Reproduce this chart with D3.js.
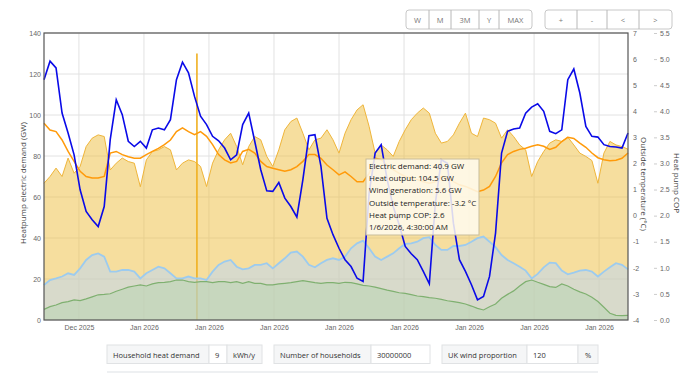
<!DOCTYPE html>
<html>
<head>
<meta charset="utf-8">
<script src="https://cdn.jsdelivr.net/npm/d3@7"></script>
<style>
body{margin:0;background:#fff;font-family:"Open Sans",sans-serif;}
</style>
</head>
<body>
<script>
// values, one sample every ~6px
var temperature=[5.21,5.92,5.66,3.93,3.17,2.33,0.99,0.16,-0.16,-0.42,0.35,2.91,4.44,3.87,2.85,2.65,2.85,2.59,3.29,3.36,3.29,3.68,5.21,5.88,5.47,4.57,
  3.81,3.49,3.04,2.87,2.59,2.14,2.33,3.49,3.93,2.85,1.76,0.95,0.93,1.27,0.67,0.35,-0.06,1.38,3.06,3.10,1.89,-0.10,-0.73,-1.25,
  -1.69,-1.95,-2.40,-2.52,0.86,2.40,2.72,1.38,0.35,-0.35,-1.18,-1.46,-1.69,-2.14,-2.61,0.48,2.14,2.01,-0.29,-1.69,-2.14,-2.65,-3.23,-3.10,
  -2.33,-0.67,2.40,3.23,3.32,3.36,3.93,4.16,4.29,4.00,3.23,3.14,3.29,5.21,5.62,4.70,3.42,3.04,3.01,2.72,2.65,2.63,2.59,3.17];
var cop=[3.77,3.64,3.61,3.45,3.23,3.04,2.85,2.75,2.72,2.72,2.75,3.20,3.23,3.17,3.13,3.10,3.10,3.17,3.23,3.29,3.36,3.45,3.61,3.68,3.61,3.55,
  3.61,3.52,3.36,3.17,3.07,3.01,3.04,3.23,3.27,3.20,3.04,2.94,2.91,2.88,2.85,2.88,2.94,3.04,3.17,3.17,3.10,2.97,2.88,2.78,
  2.84,2.75,2.65,2.65,2.81,3.10,3.07,2.97,2.88,2.81,2.75,2.72,2.69,2.65,2.62,2.65,2.75,2.72,2.65,2.59,2.56,2.51,2.46,2.49,
  2.56,2.75,3.01,3.17,3.23,3.27,3.29,3.33,3.36,3.33,3.27,3.31,3.42,3.50,3.48,3.39,3.31,3.20,3.11,3.07,3.05,3.06,3.10,3.20];
var heatOutput=[66.7,70.0,74.1,70.0,79.0,71.6,74.9,84.6,88.7,90.3,89.5,73.2,76.5,79.0,77.3,76.5,65.0,78.1,82.2,83.0,84.6,83.0,73.2,76.5,78.1,77.3,
  74.9,65.1,76.5,83.0,87.9,91.1,84.6,75.7,84.6,89.5,87.9,79.8,74.9,83.0,92.8,96.8,98.5,91.1,83.0,87.9,88.7,92.8,87.9,81.4,
  91.1,97.7,102.5,105.0,94.4,81.4,85.4,83.0,79.8,87.1,92.8,97.7,100.9,103.4,100.9,91.1,86.3,87.1,90.3,96.0,100.9,91.1,89.5,98.5,
  97.7,96.0,88.7,92.8,89.5,85.4,83.0,70.0,77.3,82.2,86.3,87.9,87.1,89.2,85.4,81.4,79.8,77.8,66.7,81.4,87.1,85.4,84.6,83.3];
var electricDemand=[17.1,19.5,20.3,21.2,22.8,22.0,25.2,29.3,31.7,32.5,30.9,23.6,23.6,24.4,24.4,23.6,20.3,22.8,24.4,26.0,25.2,22.8,20.3,20.3,21.2,20.3,
  20.3,19.5,23.6,26.9,28.5,29.3,26.0,24.7,25.2,26.9,26.9,27.7,25.2,27.7,30.1,32.9,33.4,30.9,26.9,25.7,27.7,29.3,30.1,29.3,
  30.9,35.0,37.4,38.7,35.0,30.9,29.3,30.9,32.5,35.0,37.1,37.4,38.2,39.9,40.4,36.6,34.2,34.2,36.1,36.1,36.6,38.2,39.9,40.7,
  38.2,35.5,31.7,29.3,27.7,26.0,24.1,20.3,22.5,25.7,28.0,27.7,24.1,22.3,23.1,24.1,24.4,23.6,21.2,23.6,25.7,27.7,26.9,24.7];
var windGeneration=[5.2,6.5,7.3,8.5,9.0,9.8,9.5,10.3,11.3,12.3,12.5,12.8,14.0,15.0,16.0,16.6,17.1,16.6,17.6,18.2,18.4,18.7,19.5,19.5,18.7,18.4,
  18.7,18.7,18.2,18.7,18.7,18.2,18.7,17.9,18.7,17.9,17.9,17.1,17.1,17.6,17.9,18.2,18.7,19.2,18.7,18.2,17.9,18.2,18.2,17.9,
  18.4,18.2,17.6,16.9,16.6,16.0,15.3,14.6,14.0,13.3,13.0,12.4,11.7,11.4,10.9,10.6,10.1,9.4,9.0,8.5,7.8,6.8,5.7,4.9,
  6.5,7.8,10.6,12.5,14.2,16.6,18.7,19.5,18.4,17.4,16.3,15.9,17.6,16.6,15.0,13.7,12.7,11.1,9.0,6.2,3.3,2.3,2.1,2.3];
var heatSpike={index:25.4,value:130};

var xTickIndex=[5.8,16.6,27.4,38.2,49.0,59.8,70.6,81.4,92.2];
var xTickLabels=["Dec 2025","Jan 2026","Jan 2026","Jan 2026","Jan 2026","Jan 2026","Jan 2026","Jan 2026","Jan 2026"];
var demandTicks=[0,20,40,60,80,100,120,140];
var tempTicks=[-4,-3,-2,-1,0,1,2,3,4,5,6,7];
var copTicks=[0,0.5,1,1.5,2,2.5,3,3.5,4,4.5,5,5.5];

var rangeButtons=["W","M","3M","Y","MAX"];
var navButtons=["+","-","<",">"];
var tooltipLines=["Electric demand: 40.9 GW","Heat output: 104.5 GW","Wind generation: 5.6 GW","Outside temperature: -3.2 °C","Heat pump COP: 2.6","1/6/2026, 4:30:00 AM"];

var width=690, height=373;
var plot={left:44,right:628,top:33,bottom:320};

var svg=d3.select("body").append("svg").attr("width",width).attr("height",height)
  .style("font-family","'Open Sans',sans-serif");

var x=d3.scaleLinear().domain([0,temperature.length-1]).range([plot.left,plot.right]);
var y=d3.scaleLinear().domain([0,140]).range([plot.bottom,plot.top]);
var yTemp=d3.scaleLinear().domain([-4,7]).range([plot.bottom,plot.top]);
var yCop=d3.scaleLinear().domain([0,5.5]).range([plot.bottom,plot.top]);

// grid
var grid=svg.append("g").attr("class","grid");
grid.selectAll("line.h").data(demandTicks).enter().append("line")
  .attr("x1",plot.left).attr("x2",plot.right)
  .attr("y1",function(d){return y(d);}).attr("y2",function(d){return y(d);})
  .attr("stroke","#e2e2e2");
grid.selectAll("line.v").data(xTickIndex).enter().append("line")
  .attr("y1",plot.top).attr("y2",plot.bottom)
  .attr("x1",function(d){return x(d);}).attr("x2",function(d){return x(d);})
  .attr("stroke","#e2e2e2");

function areaOf(values){
  return d3.area().x(function(d,i){return x(i);}).y0(y(0)).y1(function(d){return y(d);})(values);
}
function lineOf(values,scale){
  return d3.line().x(function(d,i){return x(i);}).y(function(d){return scale(d);})(values);
}

// heat output
svg.append("path").attr("d",areaOf(heatOutput)).attr("fill","rgba(238,190,62,0.5)");
svg.append("path").attr("d",lineOf(heatOutput,y)).attr("fill","none").attr("stroke","#efb53a").attr("stroke-width",1);
svg.append("line").attr("x1",x(heatSpike.index)).attr("x2",x(heatSpike.index))
  .attr("y1",y(0)).attr("y2",y(heatSpike.value)).attr("stroke","#f0b020").attr("stroke-width",1.6);

// electric demand
svg.append("path").attr("d",areaOf(electricDemand)).attr("fill","rgba(185,214,248,0.5)");
svg.append("path").attr("d",lineOf(electricDemand,y)).attr("fill","none").attr("stroke","#9ccbef").attr("stroke-width",1.8);

// wind generation
svg.append("path").attr("d",areaOf(windGeneration)).attr("fill","rgba(176,210,169,0.4)");
svg.append("path").attr("d",lineOf(windGeneration,y)).attr("fill","none").attr("stroke","#7fb070").attr("stroke-width",1.2);

// COP
svg.append("path").attr("d",lineOf(cop,yCop)).attr("fill","none").attr("stroke","#ff9a0a").attr("stroke-width",1.5);
// temperature
svg.append("path").attr("d",lineOf(temperature,yTemp)).attr("fill","none").attr("stroke","#0a0ae8").attr("stroke-width",1.6);

svg.append("rect").attr("x",plot.left).attr("y",plot.top)
  .attr("width",plot.right-plot.left).attr("height",plot.bottom-plot.top)
  .attr("fill","none").attr("stroke","#555").attr("stroke-width",1.2);

// axes
function styleAxis(g){
  g.select(".domain").remove();
  g.selectAll("text").attr("fill","#666").style("font-size","7px");
}
svg.append("g").attr("transform","translate("+plot.left+",0)")
  .call(d3.axisLeft(y).tickValues(demandTicks).tickSize(0).tickPadding(3))
  .call(styleAxis);
svg.append("g").attr("transform","translate("+plot.right+",0)")
  .call(d3.axisRight(yTemp).tickValues(tempTicks).tickSize(0).tickPadding(5).tickFormat(function(d){return String(d);}))
  .call(styleAxis);
svg.append("g").attr("transform","translate(654,0)")
  .call(d3.axisRight(yCop).tickValues(copTicks).tickSize(3).tickPadding(3).tickFormat(d3.format(".1f")))
  .call(styleAxis)
  .selectAll("line").attr("stroke","#ccc");
svg.append("g").attr("transform","translate(0,"+plot.bottom+")")
  .call(d3.axisBottom(x).tickValues(xTickIndex).tickSize(0).tickPadding(5).tickFormat(function(d,i){return xTickLabels[i];}))
  .call(styleAxis);

svg.append("text").text("Heatpump electric demand (GW)")
  .attr("transform","translate(22,183) rotate(-90)").attr("text-anchor","middle")
  .attr("dominant-baseline","central").style("font-size","8px").attr("fill","#444");
svg.append("text").text("Outside temperature (°C)")
  .attr("transform","translate(644,184) rotate(90)").attr("text-anchor","middle")
  .attr("dominant-baseline","central").style("font-size","8px").attr("fill","#444");
svg.append("text").text("Heat pump COP")
  .attr("transform","translate(677,183) rotate(90)").attr("text-anchor","middle")
  .attr("dominant-baseline","central").style("font-size","8px").attr("fill","#444");

// tooltip
var tip=svg.append("g").attr("transform","translate(366,159)");
tip.append("rect").attr("width",113).attr("height",76)
  .attr("fill","rgba(255,251,238,0.85)").attr("stroke","#c9bd9a");
tip.selectAll("text").data(tooltipLines).enter().append("text")
  .attr("x",3).attr("y",function(d,i){return 9.7+i*12.33;})
  .text(function(d){return d;}).style("font-size","8px").attr("fill","#1a1a1a");

// buttons
function buttonGroup(labels,edges,y0,h){
  var g=svg.append("g");
  g.append("rect").attr("x",edges[0]).attr("y",y0).attr("width",edges[edges.length-1]-edges[0]).attr("height",h)
    .attr("rx",3).attr("fill","#fff").attr("stroke","#c8c8c8");
  g.selectAll("line").data(edges.slice(1,-1)).enter().append("line")
    .attr("x1",function(d){return d;}).attr("x2",function(d){return d;})
    .attr("y1",y0).attr("y2",y0+h).attr("stroke","#b8b8b8");
  g.selectAll("text").data(labels).enter().append("text")
    .attr("x",function(d,i){return (edges[i]+edges[i+1])/2;}).attr("y",y0+h/2)
    .attr("text-anchor","middle").attr("dominant-baseline","central")
    .text(function(d){return d;}).style("font-size","7.5px").attr("fill","#777");
}
buttonGroup(rangeButtons,[406,429,451,479,499,532],10,19);
buttonGroup(navButtons,[545,577,607,639,672],10,19);

// inputs
var inputRows=[
  [{t:"Household heat demand",a:107,b:209,bg:"#f5f6f7"},{t:"9",a:209,b:227,bg:"#fff"},{t:"kWh/y",a:227,b:262,bg:"#f5f6f7"}],
  [{t:"Number of households",a:274,b:371,bg:"#f5f6f7"},{t:"30000000",a:371,b:430,bg:"#fff"}],
  [{t:"UK wind proportion",a:442,b:527,bg:"#f5f6f7"},{t:"120",a:527,b:578,bg:"#fff"},{t:"%",a:578,b:598,bg:"#f5f6f7"}]
];
inputRows.forEach(function(row){
  var g=svg.append("g");
  g.selectAll("rect").data(row).enter().append("rect")
    .attr("x",function(d){return d.a;}).attr("y",345).attr("width",function(d){return d.b-d.a;}).attr("height",18.5)
    .attr("fill",function(d){return d.bg;}).attr("stroke","#e0e2e4");
  g.selectAll("text").data(row).enter().append("text")
    .attr("x",function(d){return d.t=="%"?(d.a+d.b)/2:d.a+6;}).attr("y",354.5)
    .attr("text-anchor",function(d){return d.t=="%"?"middle":"start";})
    .attr("dominant-baseline","central")
    .text(function(d){return d.t;}).style("font-size","7.5px").attr("fill","#333");
});
svg.append("rect").attr("x",107).attr("y",371).attr("width",491).attr("height",4).attr("fill","#eef0f2");
</script>
</body>
</html>
